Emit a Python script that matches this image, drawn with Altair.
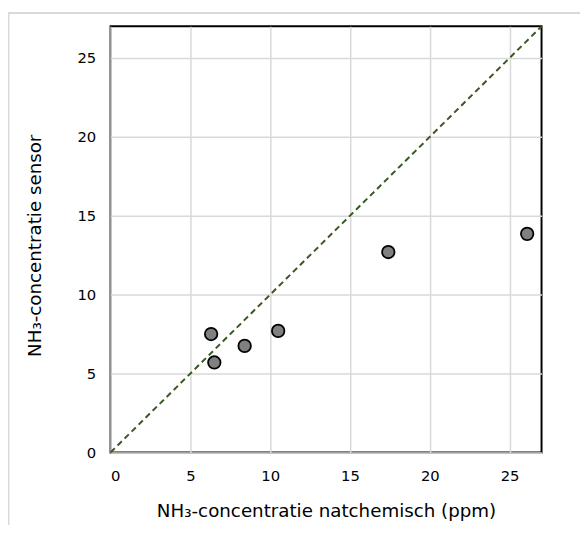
import altair as alt
import pandas as pd

natchemisch = [6.3, 6.5, 8.4, 10.5, 17.4, 26.1]
sensor = [7.5, 5.7, 6.75, 7.7, 12.7, 13.85]
line_vals = [0, 27]
ticks = [0, 5, 10, 15, 20, 25]

pts = pd.DataFrame({"x": natchemisch, "y": sensor})
diag = pd.DataFrame({"x": line_vals, "y": line_vals})

W, H = 437, 432
xs = alt.Scale(domain=[0, 27], nice=False, zero=True)
ys = alt.Scale(domain=[0, 27], nice=False, zero=True)

xaxis = alt.Axis(values=ticks, title="NH₃-concentratie natchemisch (ppm)", ticks=False, tickSize=0,
                 domain=False, labelPadding=17, titleY=59, titleBaseline="middle",
                 labelFontSize=15, titleFontSize=18.5, titleFontWeight="normal")
yaxis = alt.Axis(values=ticks, title="NH₃-concentratie sensor", ticks=False, tickSize=0,
                 domain=False, labelPadding=15, titleX=-77, titleY=H / 2 + 6, titleAngle=-90,
                 titleBaseline="middle", titleAlign="center",
                 labelFontSize=15, titleFontSize=18.5, titleFontWeight="normal")

line = alt.Chart(diag).mark_line(color="#385723", strokeDash=[6, 4], strokeWidth=2).encode(
    x=alt.X("x:Q", scale=xs, axis=xaxis),
    y=alt.Y("y:Q", scale=ys, axis=yaxis),
)
points = alt.Chart(pts).mark_point(filled=True, shape="circle", size=160, fill="#808080",
                                   stroke="black", strokeWidth=1.8, opacity=1).encode(
    x=alt.X("x:Q", scale=xs),
    y=alt.Y("y:Q", scale=ys),
)

border_df = pd.DataFrame({"a": [0]})
border_left = alt.Chart(border_df).mark_rule(color="#d9d9d9", strokeWidth=2).encode(
    x=alt.value(-103.5), y=alt.value(-14), y2=alt.value(H + 80))
border_top = alt.Chart(border_df).mark_rule(color="#d9d9d9", strokeWidth=2).encode(
    x=alt.value(-104), x2=alt.value(W + 60), y=alt.value(-13.5))

chart = alt.layer(border_left, border_top, line, points).properties(
    width=W, height=H,
    autosize=alt.AutoSizeParams(type="none"),
    padding={"left": 104, "top": 15, "right": 39, "bottom": 70},
    background="white",
).configure_view(stroke="black", strokeWidth=2).configure_axis(
    gridColor="#d9d9d9", gridWidth=1.5, labelColor="black", titleColor="black",
    labelFont="DejaVu Sans", titleFont="DejaVu Sans",
)

chart.save("out.html", embed_options={"renderer": "svg", "actions": False})
